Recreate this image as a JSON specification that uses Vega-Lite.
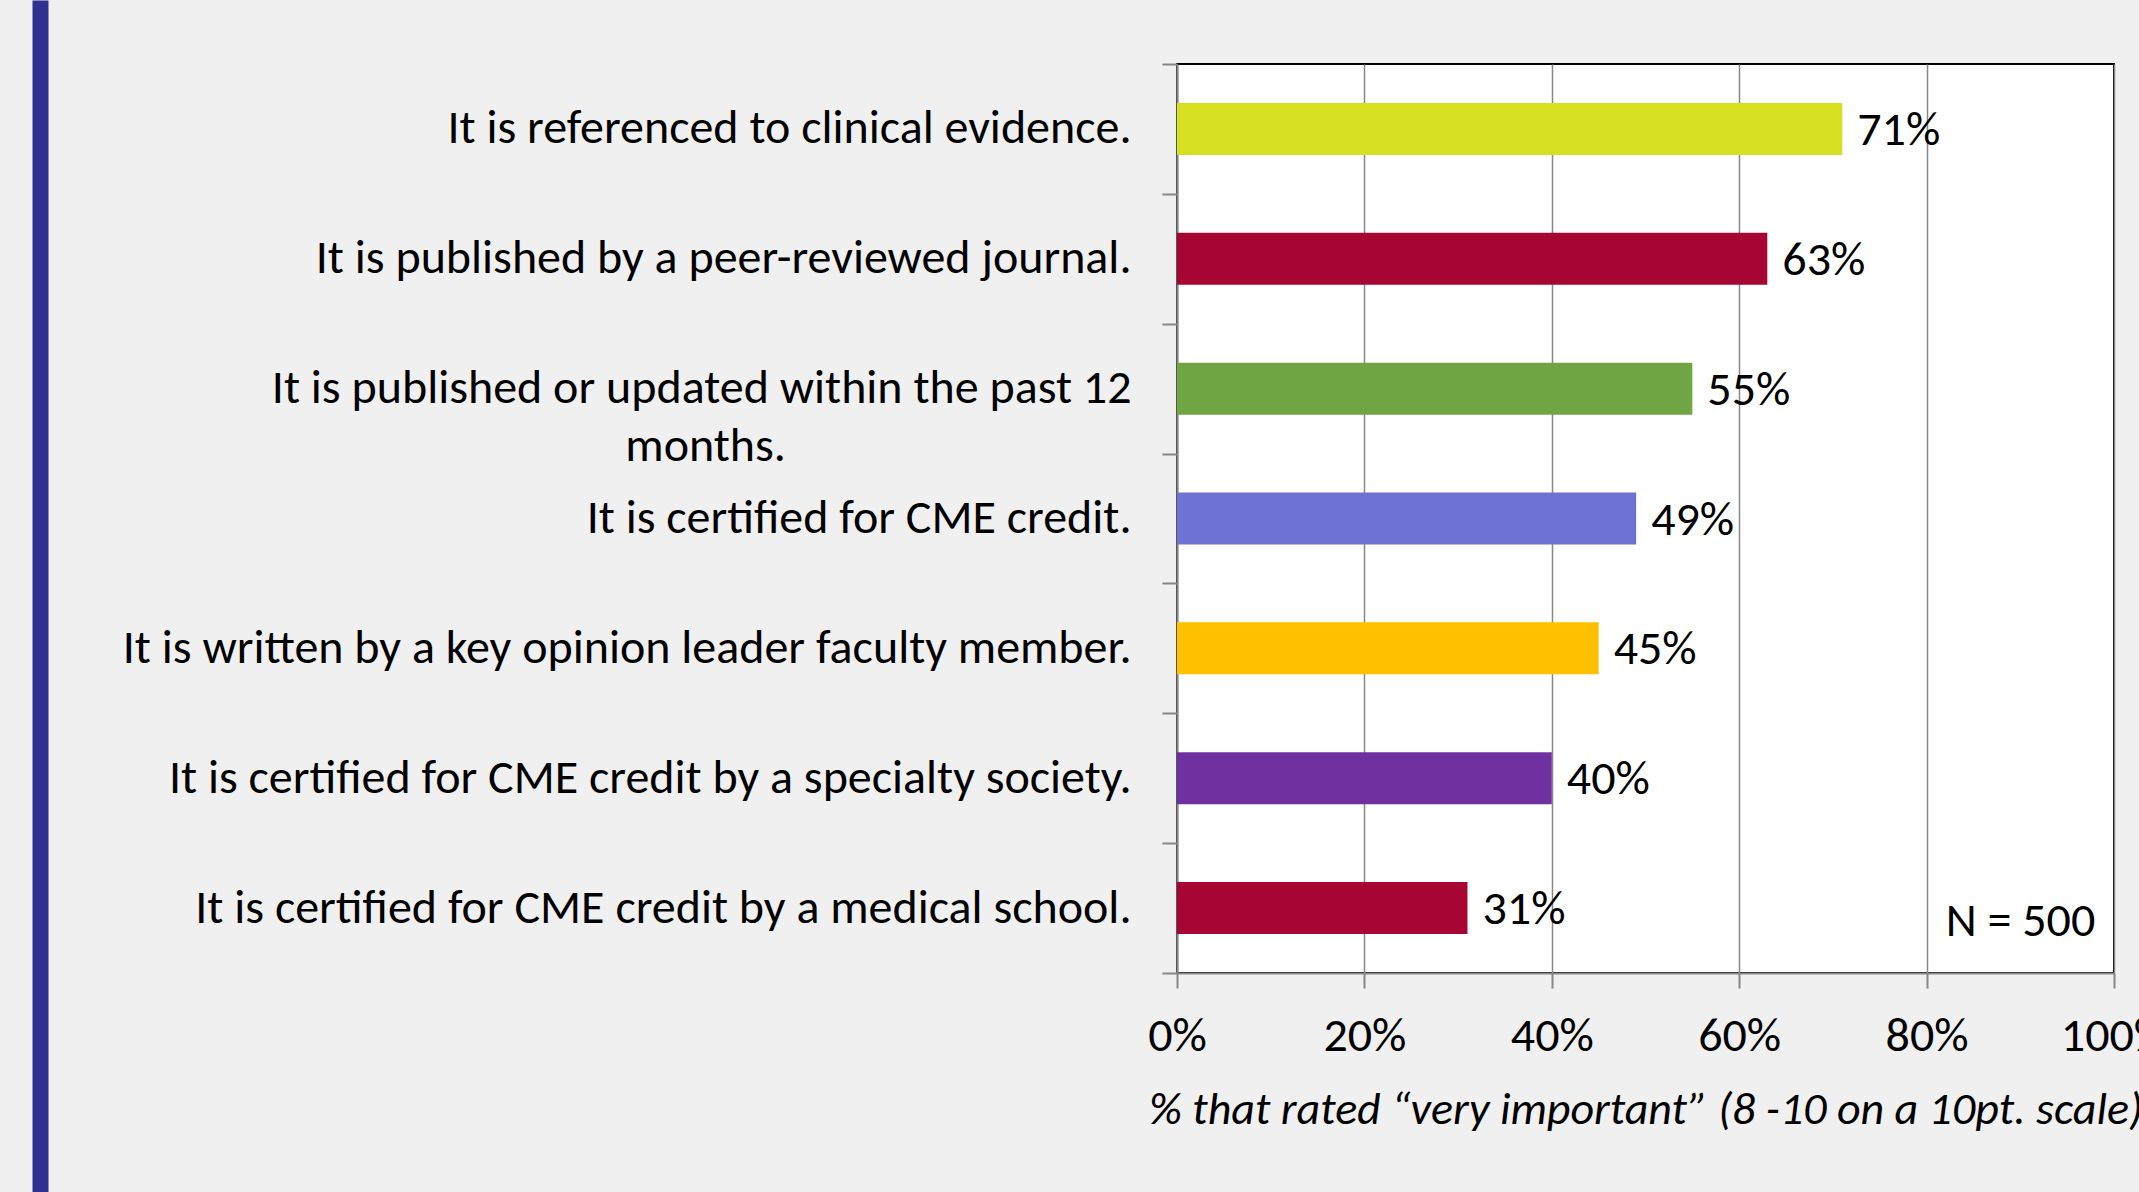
{
  "$schema": "https://vega.github.io/schema/vega-lite/v6.json",
  "background": "#F0F0F0",
  "autosize": {"type": "none"},
  "padding": {"left": 1177, "top": 64, "right": 25, "bottom": 219},
  "width": 937,
  "height": 909,
  "view": {"fill": "white", "stroke": "black", "strokeWidth": 2},
  "config": {"font": "Carlito, Lato, sans-serif"},
  "datasets": {
    "items": [
      {"item": "It is referenced to clinical evidence.", "pct": 71, "label": "71%"},
      {"item": "It is published by a peer-reviewed journal.", "pct": 63, "label": "63%"},
      {"item": "It is published or updated within the past 12 months.", "pct": 55, "label": "55%"},
      {"item": "It is certified for CME credit.", "pct": 49, "label": "49%"},
      {"item": "It is written by a key opinion leader faculty member.", "pct": 45, "label": "45%"},
      {"item": "It is certified for CME credit by a specialty society.", "pct": 40, "label": "40%"},
      {"item": "It is certified for CME credit by a medical school.", "pct": 31, "label": "31%"}
    ],
    "note": [{"text": "N = 500"}]
  },
  "data": {"name": "items"},
  "encoding": {
    "y": {
      "field": "item",
      "type": "nominal",
      "sort": null,
      "scale": {"paddingInner": 0, "paddingOuter": 0},
      "axis": {
        "title": null,
        "grid": false,
        "labelFontSize": 48,
        "labelColor": "black",
        "labelLimit": 2000,
        "labelLineHeight": 58,
        "labelExpr": "datum.value == 'It is published or updated within the past 12 months.' ? ['It is published or updated within the past 12', 'months.\u2003\u2003\u2003\u2003\u2003\u2003\u2003\u2009\u200b'] : datum.value",
        "labelAlign": "right",
        "labelPadding": 31,
        "tickSize": 15,
        "tickBand": "extent",
        "tickColor": "#878787",
        "tickWidth": 2,
        "domainColor": "#878787",
        "domainWidth": 2
      }
    }
  },
  "layer": [
    {
      "mark": {"type": "bar", "size": 52},
      "encoding": {
        "x": {
          "field": "pct",
          "type": "quantitative",
          "scale": {"domain": [0, 100]},
          "axis": {
            "orient": "bottom",
            "values": [0, 20, 40, 60, 80, 100],
            "labelExpr": "datum.value + '%'",
            "labelFontSize": 48,
            "labelColor": "black",
            "labelPadding": 24,
            "labelFlush": false,
            "labelOverlap": false,
            "tickSize": 15,
            "tickColor": "#878787",
            "tickWidth": 2,
            "domainColor": "#878787",
            "domainWidth": 2,
            "grid": true,
            "gridColor": "#878787",
            "gridWidth": 1.5,
            "title": "% that rated “very important” (8 -10 on a 10pt. scale)",
            "titleFontSize": 46,
            "titleFontStyle": "italic",
            "titleFontWeight": "normal",
            "titleColor": "black",
            "titlePadding": 27
          }
        },
        "color": {
          "field": "item",
          "type": "nominal",
          "legend": null,
          "scale": {
            "domain": [
              "It is referenced to clinical evidence.",
              "It is published by a peer-reviewed journal.",
              "It is published or updated within the past 12 months.",
              "It is certified for CME credit.",
              "It is written by a key opinion leader faculty member.",
              "It is certified for CME credit by a specialty society.",
              "It is certified for CME credit by a medical school."
            ],
            "range": ["#D6E020", "#A70533", "#70A543", "#6E72D2", "#FFC000", "#7030A0", "#A70533"]
          }
        }
      }
    },
    {
      "mark": {"type": "text", "align": "left", "baseline": "middle", "dx": 15, "dy": 2, "fontSize": 48, "color": "black"},
      "encoding": {
        "x": {
          "field": "pct",
          "type": "quantitative",
          "axis": {
            "orient": "top",
            "values": [0],
            "labels": false,
            "domain": false,
            "grid": false,
            "title": null,
            "ticks": true,
            "offset": 64,
            "tickSize": -1192,
            "tickOffset": -1137,
            "tickWidth": 16,
            "tickColor": "#2E3192"
          }
        },
        "text": {"field": "label"}
      }
    },
    {
      "data": {"name": "note"},
      "mark": {"type": "text", "align": "right", "baseline": "middle", "dy": 14, "fontSize": 48, "color": "black"},
      "encoding": {
        "x": {"datum": 98, "type": "quantitative", "axis": null},
        "y": {"datum": "It is certified for CME credit by a medical school.", "type": "nominal"},
        "text": {"field": "text"}
      }
    }
  ],
  "resolve": {"axis": {"x": "independent"}}
}
